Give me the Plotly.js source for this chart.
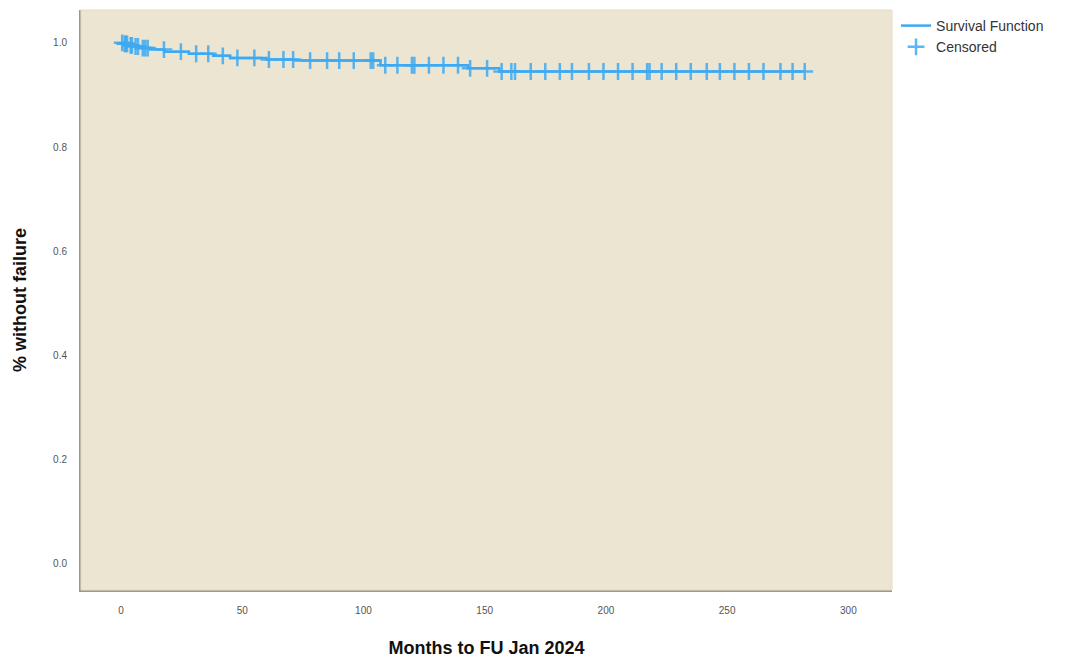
<!DOCTYPE html>
<html>
<head>
<meta charset="utf-8">
<script src="https://cdn.plot.ly/plotly-3.0.1.min.js"></script>
<style>html,body{margin:0;padding:0;background:#fff;}#chart{width:1077px;height:660px;}</style>
</head>
<body>
<div id="chart"></div>
<script>
// Kaplan-Meier step function: event times (months) and survival after each event
const eventTimes = [0, 1, 3, 5, 8, 12, 18, 28, 38, 45, 60, 72, 107, 143, 156, 282];
const survival   = [1.0, 0.998, 0.995, 0.993, 0.99, 0.987, 0.983, 0.979, 0.975, 0.971, 0.968, 0.966, 0.957, 0.951, 0.945, 0.945];
// Censored observation times (months)
const censoredTimes = [0.5, 1.5, 2, 2.5, 4, 4.5, 6, 7, 9, 10, 11, 17.7, 24.7, 31, 36, 42, 48, 55, 61, 67, 71, 78, 85, 90, 96, 103, 104,
  109, 114, 120, 121, 127, 133, 139, 144, 151, 157, 161, 162.5, 169, 175, 181, 186, 193, 199, 205,
  211, 217, 218, 223, 229, 235, 241.6, 247, 253, 259, 265, 272, 277, 282];
const xTicks = [0, 50, 100, 150, 200, 250, 300];
const yTicks = [0.0, 0.2, 0.4, 0.6, 0.8, 1.0];

function survAt(t) {
  let s = survival[0];
  for (let i = 0; i < eventTimes.length; i++) { if (eventTimes[i] <= t) s = survival[i]; }
  return s;
}
const censoredSurv = censoredTimes.map(survAt);
const blue = '#3DA9F2';

const traces = [
  {x: eventTimes, y: survival, mode: 'lines', line: {shape: 'hv', color: blue, width: 2.5}, name: 'Survival Function'},
  {x: censoredTimes, y: censoredSurv, mode: 'markers', name: 'Censored',
   marker: {symbol: 'cross-thin-open', size: 12, color: blue, opacity: 0.85, line: {color: blue, width: 2.5}}}
];

const layout = {
  width: 1077, height: 660,
  margin: {l: 81, r: 185, t: 10, b: 70},
  paper_bgcolor: '#ffffff', plot_bgcolor: '#ECE5D1',
  font: {family: 'Liberation Sans, Arial, sans-serif', color: '#333'},
  showlegend: true,
  legend: {x: 1.005, xanchor: 'left', y: 1.0, yanchor: 'top', font: {size: 14, color: '#333'}, bgcolor: 'rgba(0,0,0,0)', tracegroupgap: 0},
  xaxis: {
    range: [-16.5, 318], tickvals: xTicks, ticktext: xTicks.map(String),
    ticks: 'outside', ticklen: 10, tickcolor: 'rgba(0,0,0,0)',
    tickfont: {size: 10, color: '#555'}, showgrid: false, zeroline: false,
    showline: true, linecolor: '#9a9a8a', linewidth: 2, mirror: false,
    title: {text: 'Months to FU Jan 2024', font: {size: 18, color: '#111', weight: 'bold'}, standoff: 26}
  },
  yaxis: {
    range: [-0.05, 1.063], tickvals: yTicks, ticktext: yTicks.map(v => v.toFixed(1)),
    ticks: 'outside', ticklen: 10, tickcolor: 'rgba(0,0,0,0)',
    tickfont: {size: 10, color: '#555'}, showgrid: false, zeroline: false,
    showline: true, linecolor: '#9a9a8a', linewidth: 2,
    title: {text: '% without failure', font: {size: 18, color: '#111', weight: 'bold'}, standoff: 22}
  },
  shapes: [
    {type: 'rect', xref: 'paper', yref: 'paper', x0: 0, x1: 1, y0: 0, y1: 1, line: {color: '#e4dcc6', width: 1}, fillcolor: 'rgba(0,0,0,0)'}
  ]
};

Plotly.newPlot('chart', traces, layout, {displayModeBar: false, staticPlot: true});
</script>
</body>
</html>
